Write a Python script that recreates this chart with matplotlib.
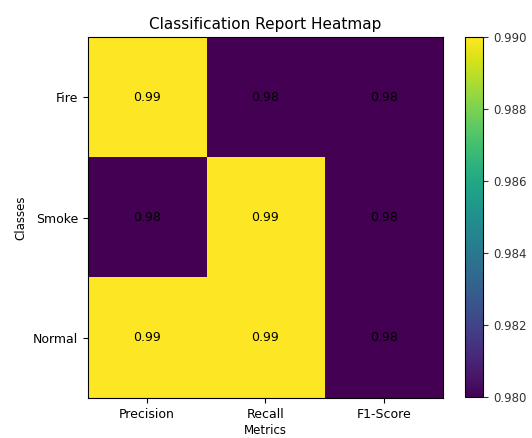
import numpy as np
import matplotlib
matplotlib.use("Agg")
import matplotlib.pyplot as plt

classes = ["Fire", "Smoke", "Normal"]
metrics = ["Precision", "Recall", "F1-Score"]
scores = np.array([[0.99, 0.98, 0.98],
                   [0.98, 0.99, 0.98],
                   [0.99, 0.99, 0.98]])

fig = plt.figure(figsize=(5.32, 4.38), dpi=100)
ax = fig.add_axes([0.165, 0.091, 0.668, 0.824])
cax = fig.add_axes([0.874, 0.093, 0.034, 0.822])

im = ax.imshow(scores, cmap="viridis", aspect="auto", vmin=0.98, vmax=0.99)
cb = fig.colorbar(im, cax=cax)
cb.set_ticks([0.980, 0.982, 0.984, 0.986, 0.988, 0.990])
cb.ax.tick_params(labelsize=8.5, colors="#333333")

ax.set_xticks(np.arange(len(metrics)))
ax.set_xticklabels(metrics, fontsize=9)
ax.set_yticks(np.arange(len(classes)))
ax.set_yticklabels(classes, fontsize=9)
ax.set_xlabel("Metrics", fontsize=8.5, labelpad=2)
ax.set_ylabel("Classes", fontsize=8.5)
ax.set_title("Classification Report Heatmap", fontsize=11)

for i in range(len(classes)):
    for j in range(len(metrics)):
        ax.text(j, i, "%.2f" % scores[i, j], ha="center", va="center",
                color="black", fontsize=9)

fig.savefig("out.png", dpi=100)
